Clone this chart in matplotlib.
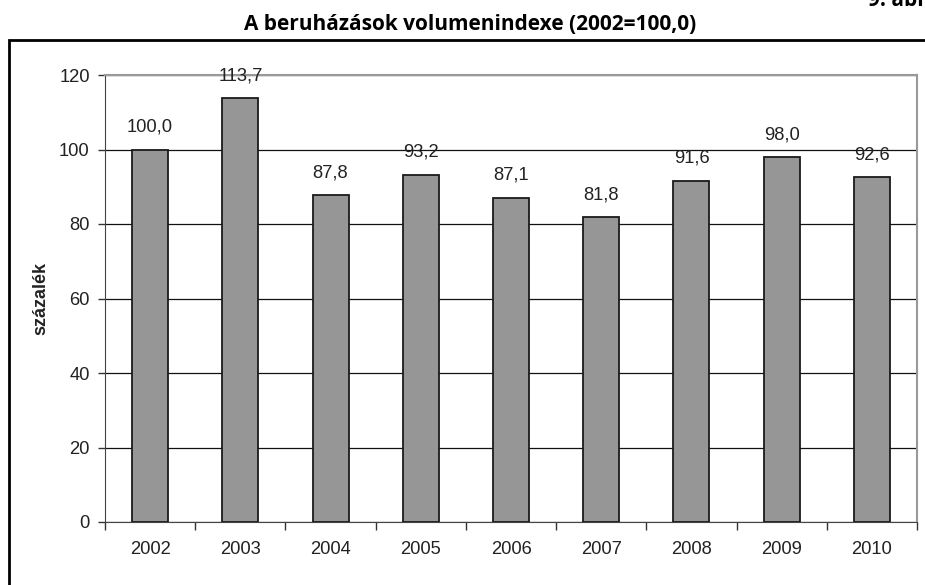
import numpy as np
import matplotlib.pyplot as plt
from matplotlib.patches import Rectangle

years = ["2002", "2003", "2004", "2005", "2006", "2007", "2008", "2009", "2010"]
values = [100.0, 113.7, 87.8, 93.2, 87.1, 81.8, 91.6, 98.0, 92.6]
labels = ["100,0", "113,7", "87,8", "93,2", "87,1", "81,8", "91,6", "98,0", "92,6"]

plt.rcParams['font.family'] = ['Liberation Sans', 'DejaVu Sans']

fig = plt.figure(figsize=(9.25, 5.85), dpi=100)
ax = fig.add_axes([105/925, 1-522/585, (917-105)/925, (522-75)/585])

x = np.arange(len(years))
ax.bar(x, values, width=0.4, color="#969696", edgecolor="#1a1a1a", linewidth=1.3, zorder=3)

for xi, v, lab in zip(x, values, labels):
    ax.annotate(lab, (xi, v), xytext=(0, 10), textcoords="offset points",
                ha="center", va="bottom", fontsize=13.2, color="#222222")

ax.set_xlim(-0.5, len(years) - 0.5)
ax.set_ylim(0, 120)
ax.set_yticks(np.arange(0, 121, 20))
ax.set_xticks(x)
ax.set_xticklabels(years)
ax.set_xticks(np.arange(-0.5, len(years), 1), minor=True)
ax.tick_params(axis="x", which="major", length=0, pad=14, labelsize=13.2, labelcolor="#222222")
ax.tick_params(axis="x", which="minor", length=6, width=1, color="#333333")
ax.tick_params(axis="y", length=5, width=1, color="#333333", pad=6, labelsize=13.2, labelcolor="#222222")

ax.yaxis.grid(True, color="#111111", linewidth=0.9, zorder=0)
ax.set_axisbelow(True)
ax.spines["top"].set_color("#999999")
ax.spines["right"].set_color("#999999")
ax.spines["top"].set_linewidth(1.5)
ax.spines["right"].set_linewidth(1.5)
ax.spines["left"].set_color("#444444")
ax.spines["bottom"].set_color("#444444")

ax.set_ylabel("százalék", fontsize=13, fontweight="bold", color="#222222")
ax.yaxis.set_label_coords(-56/812, 0.5)

fig.text(470/925, 1-25/585, "A beruházások volumenindexe (2002=100,0)",
         ha="center", va="center", fontsize=15, fontweight="bold", family=["Open Sans", "DejaVu Sans"])
fig.text(868/925, 1-6/585, "9. ábra", ha="left", va="baseline",
         fontsize=15, fontweight="bold", family=["Open Sans", "DejaVu Sans"])

fig.patches.append(Rectangle((9/925, -0.1), 1.2, 1-40/585+0.1, transform=fig.transFigure,
                             fill=False, edgecolor="black", linewidth=2))

fig.savefig("out.png", dpi=100)
